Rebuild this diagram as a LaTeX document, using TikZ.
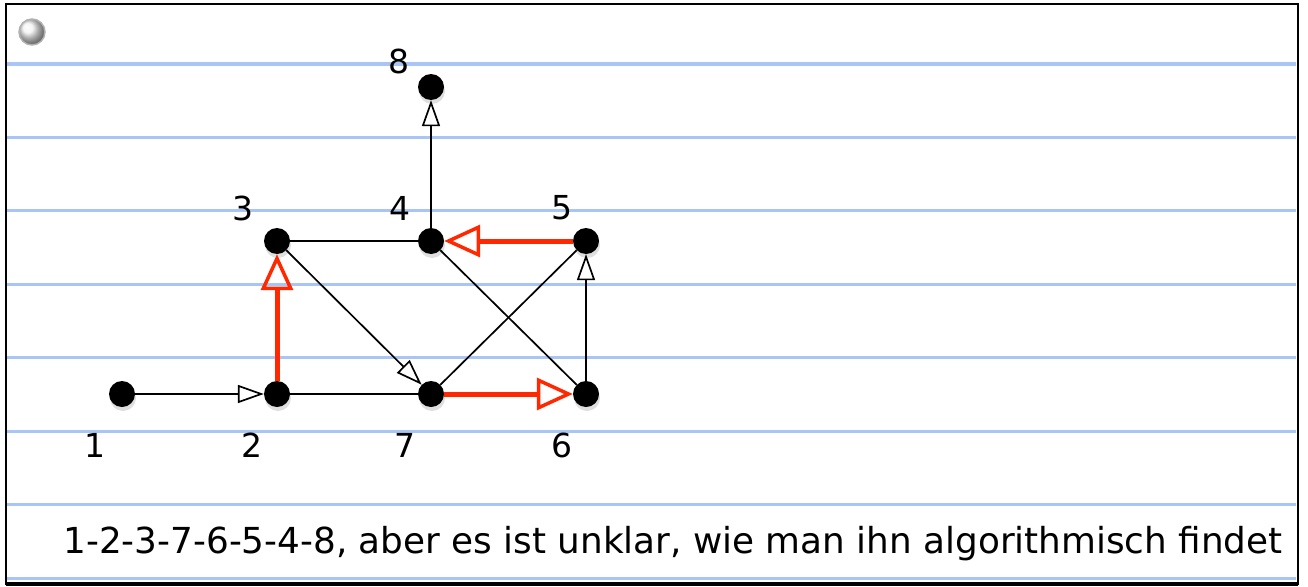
\documentclass[tikz,border=0pt]{standalone}
\usepackage{fontspec}
\setmainfont{DejaVu Sans}
\usepackage{xcolor}
\usepackage{tikz}
\usetikzlibrary{arrows.meta, shadows}
\definecolor{ruleblue}{RGB}{168,197,245}
\definecolor{pathred}{RGB}{255,40,0}

\begin{document}
\begin{tikzpicture}[x=1pt, y=-1pt,
  vertex/.style={circle, fill=black, minimum size=26pt, inner sep=0pt,
    drop shadow={opacity=0.25, shadow xshift=1pt, shadow yshift=-4pt}},
  num/.style={font=\fontsize{33}{33}\selectfont},
  edge/.style={line width=1.7pt},
  arc/.style={edge, -{Triangle[open, length=26pt, width=18pt]}},
  redarc/.style={line width=5pt, pathred, -{Triangle[open, length=36pt, width=32pt, line width=3.5pt]}}]
\useasboundingbox (0,0) rectangle (1308,586);
% Ruled paper
\foreach \y in {64,137,210,284,357,431,504,578}
  \draw[ruleblue, line width=3pt] (7,\y) -- (1296,\y);
\draw[line width=2pt] (6,4) rectangle (1298,584);
\draw[line width=4pt] (6,584) -- (1298,584);
\node[circle, minimum size=26pt, inner sep=0pt, ball color=gray!10, draw=gray!60, line width=1.5pt] (knob) at (32,32) {};

% Vertices
\node[vertex] (v1) at (122,394) {};
\node[vertex] (v2) at (277,394) {};
\node[vertex] (v7) at (431,394) {};
\node[vertex] (v6) at (586,394) {};
\node[vertex] (v3) at (277,241) {};
\node[vertex] (v4) at (431,241) {};
\node[vertex] (v5) at (586,241) {};
\node[vertex] (v8) at (431,87) {};

% Numbers
\node[num] (n1) at (95,445) {1};
\node[num] (n2) at (252,445) {2};
\node[num] (n7) at (405,445) {7};
\node[num] (n6) at (562,445) {6};
\node[num] (n3) at (243,208) {3};
\node[num] (n4) at (400,208) {4};
\node[num] (n5) at (562,208) {5};
\node[num] (n8) at (399,61) {8};

% Edges
\draw[arc] (v1) -- (v2);
\draw[edge] (v2) -- (v7);
\draw[edge] (v3) -- (v4);
\draw[arc] (v3) -- (v7);
\draw[edge] (v7) -- (v5);
\draw[edge] (v4) -- (v6);
\draw[arc] (v6) -- (v5);
\draw[arc] (v4) -- (v8);

% Path found
\draw[redarc] (v2) -- (v3);
\draw[redarc] (v7) -- (v6);
\draw[redarc] (v5) -- (v4);

% Caption
\node[font=\fontsize{35.8}{36}\selectfont, anchor=base west] (caption) at (60,553) {1-2-3-7-6-5-4-8, aber es ist unklar, wie man ihn algorithmisch findet};
\end{tikzpicture}
\end{document}
